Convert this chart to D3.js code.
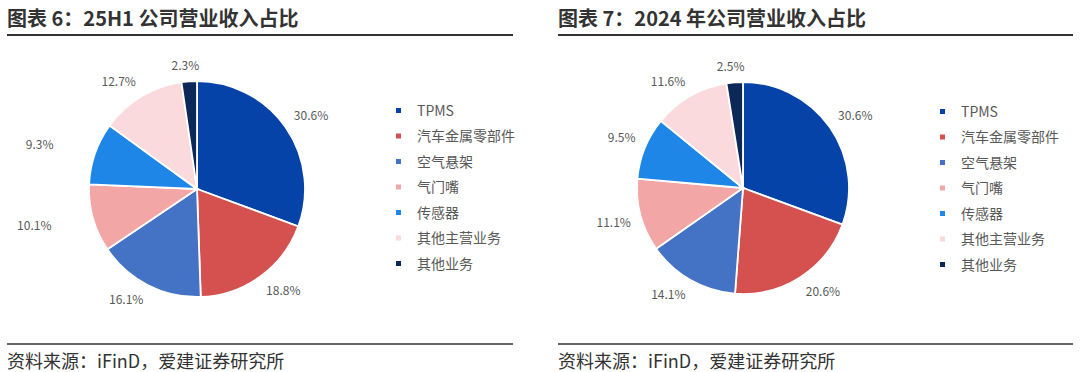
<!DOCTYPE html>
<html><head><meta charset="utf-8">
<script src="https://cdn.jsdelivr.net/npm/d3@7"></script>
<style>body{margin:0;background:#fff;} svg{display:block;}</style>
</head><body>
<svg id="c" width="1080" height="372"></svg>
<script>
const categories = ["TPMS","汽车金属零部件","空气悬架","气门嘴","传感器","其他主营业务","其他业务"];
const values25H1 = [30.6,18.8,16.1,10.1,9.3,12.7,2.3];
const values2024 = [30.6,20.6,14.1,11.1,9.5,11.6,2.5];
const titles = ["图表 6：25H1 公司营业收入占比","图表 7：2024 年公司营业收入占比"];
const source = "资料来源：iFinD，爱建证券研究所";
const colors = ["#0543A8","#D4514F","#4472C4","#F2A7A6","#1E86E6","#FBDADD","#0B2858"];

const svg = d3.select("#c");
const font = "'Noto Sans CJK SC','Noto Sans',sans-serif";
const color = d3.scaleOrdinal().domain(categories).range(colors);

// layout: extra horizontal outward push of individual labels (pixels), per panel
const panels = [
  {x0:7, x1:513, cx:197, cy:189, r:108, lx:396, ly:111, values:values25H1, title:titles[0], extra:[0,0,0,32,32,0,0]},
  {x0:558, x1:1073, cx:743, cy:188, r:106, lx:940, ly:112, values:values2024, title:titles[1], extra:[0,0,0,0,0,0,0]}
];

const clamp = t => Math.max(-1, Math.min(1, t*3));

panels.forEach(p=>{
  const g = svg.append("g");
  g.append("text").attr("x",p.x0).attr("y",26).attr("font-family",font).attr("font-weight","bold")
    .attr("font-size",20).attr("fill","#333").text(p.title);
  g.append("line").attr("x1",p.x0).attr("x2",p.x1).attr("y1",35).attr("y2",35).attr("stroke","#333").attr("stroke-width",2);
  g.append("line").attr("x1",p.x0).attr("x2",p.x1).attr("y1",344).attr("y2",344).attr("stroke","#333").attr("stroke-width",1.5);
  g.append("text").attr("x",p.x0).attr("y",368).attr("font-family",font)
    .attr("font-size",18).attr("fill","#333").text(source);

  const data = categories.map((c,i)=>({cat:c, v:p.values[i], i:i}));
  const pie = d3.pie().value(d=>d.v).sort(null);
  const arcs = pie(data);
  const arc = d3.arc().innerRadius(0).outerRadius(p.r);
  const pg = g.append("g").attr("transform",`translate(${p.cx},${p.cy})`);
  pg.selectAll("path").data(arcs).join("path").attr("d",arc)
    .attr("fill",d=>color(d.data.cat)).attr("stroke","#fff").attr("stroke-width",1.8);
  const gap = 10, h = 12;
  const anchorArc = d3.arc().innerRadius(p.r+gap).outerRadius(p.r+gap);
  pg.selectAll("text").data(arcs).join("text")
    .attr("text-anchor","middle").attr("dy","0.35em")
    .attr("font-family",font).attr("font-size",12).attr("fill","#595959")
    .text(d=>d.data.v.toFixed(1)+"%")
    .attr("transform",function(d){
      const w = this.getComputedTextLength();
      const a = (d.startAngle+d.endAngle)/2;
      const s = Math.sin(a), c = Math.cos(a);
      const pt = anchorArc.centroid(d);
      const x = pt[0] + clamp(s)*w/2 + Math.sign(s)*p.extra[d.data.i];
      const y = pt[1] - clamp(c)*h/2;
      return `translate(${x},${y})`;
    });

  const lg = g.append("g");
  const step = 25.5;
  categories.forEach((c,i)=>{
    const y = p.ly + i*step;
    lg.append("rect").attr("x",p.lx).attr("y",y-3).attr("width",5).attr("height",5).attr("fill",color(c));
    lg.append("text").attr("x",p.lx+21).attr("y",y).attr("dy","0.35em")
      .attr("font-family",font).attr("font-size",14).attr("fill","#595959").text(c);
  });
});
</script>
</body></html>
